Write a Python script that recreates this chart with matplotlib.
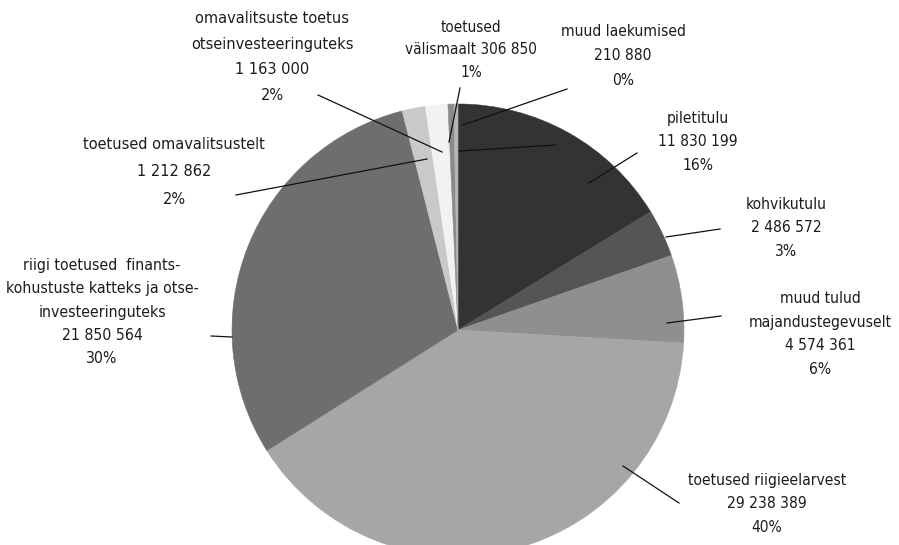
import matplotlib
matplotlib.use("Agg")
import matplotlib.pyplot as plt
from matplotlib import font_manager

W, H = 899, 545

names = [
    "piletitulu",
    "kohvikutulu",
    "muud tulud\nmajandustegevuselt",
    "toetused riigieelarvest",
    "riigi toetused  finants-\nkohustuste katteks ja otse-\ninvesteeringuteks",
    "toetused omavalitsustelt",
    "omavalitsuste toetus\notseinvesteeringuteks",
    "toetused\nvälismaalt",
    "muud laekumised",
]
values = [11830199, 2486572, 4574361, 29238389, 21850564,
          1212862, 1163000, 306850, 210880]
pct_labels = ["16%", "3%", "6%", "40%", "30%", "2%", "2%", "1%", "0%"]
colors = ["#333333", "#555555", "#8f8f8f", "#a6a6a6", "#6e6e6e",
          "#c9c9c9", "#f2f2f2", "#8a8a8a", "#b5b5b5"]

# label layout in pixels from top-left: text centre, size, line spacing
label_pos = [(698, 142), (786, 228), (820, 334), (767, 504), (102, 312),
             (174, 172), (272, 57), (471, 50), (623, 56)]
label_size = [11.2, 11.2, 11.2, 11.2, 11.3, 11.7, 11.7, 11.0, 11.2]
label_ls = [1.73, 1.73, 1.73, 1.73, 1.69, 2.02, 1.9, 1.66, 1.82]
leaders = [((637, 153), (589, 183)), ((720, 229), (666, 237)),
           ((721, 316), (667, 323)), ((679, 503), (623, 466)),
           ((211, 336), (232, 337)), ((236, 195), (427, 159)),
           ((318, 95), (442, 152)), ((460, 88), (449, 142)),
           ((567, 89), (463, 125))]
extra_line = ((556, 145), (459, 151))


def pick_font():
    cands = [("Liberation Sans Narrow", "normal"),
             ("DejaVu Sans", "condensed"),
             ("Roboto Condensed", "normal"),
             ("Open Sans Condensed", "normal")]
    for fam, st in cands:
        fp = font_manager.FontProperties(family=fam, stretch=st)
        try:
            path = font_manager.findfont(fp, fallback_to_default=False)
        except Exception:
            continue
        base = path.lower()
        if "narrow" in base or "condensed" in base:
            return font_manager.FontProperties(fname=path)
    return font_manager.FontProperties(family="DejaVu Sans")


fprop = pick_font()


def fmt(v):
    return f"{v:,}".replace(",", " ")


def px(p):
    return p[0], H - p[1]


fig = plt.figure(figsize=(W / 100, H / 100), dpi=100)
ax = fig.add_axes([0, 0, 1, 1])

wedges, _ = ax.pie(values, colors=colors, startangle=90, counterclock=False,
                   center=px((458, 330)), radius=226,
                   wedgeprops=dict(linewidth=0.4))
for w in wedges:
    w.set_edgecolor(w.get_facecolor())

ax.set_xlim(0, W)
ax.set_ylim(0, H)
ax.set_aspect("equal")
ax.axis("off")

for i, name in enumerate(names):
    if i == 7:
        txt = f"{name} {fmt(values[i])}\n{pct_labels[i]}"
    else:
        txt = f"{name}\n{fmt(values[i])}\n{pct_labels[i]}"
    fp = fprop.copy()
    fp.set_size(label_size[i])
    ax.text(*px(label_pos[i]), txt, ha="center", va="center",
            multialignment="center", fontproperties=fp, color="#1c1c1c",
            linespacing=label_ls[i])
    (x0, y0), (x1, y1) = px(leaders[i][0]), px(leaders[i][1])
    ax.plot([x0, x1], [y0, y1], color="#111111", lw=0.9)

(x0, y0), (x1, y1) = px(extra_line[0]), px(extra_line[1])
ax.plot([x0, x1], [y0, y1], color="#111111", lw=0.9)

fig.savefig("out.png", dpi=100)
